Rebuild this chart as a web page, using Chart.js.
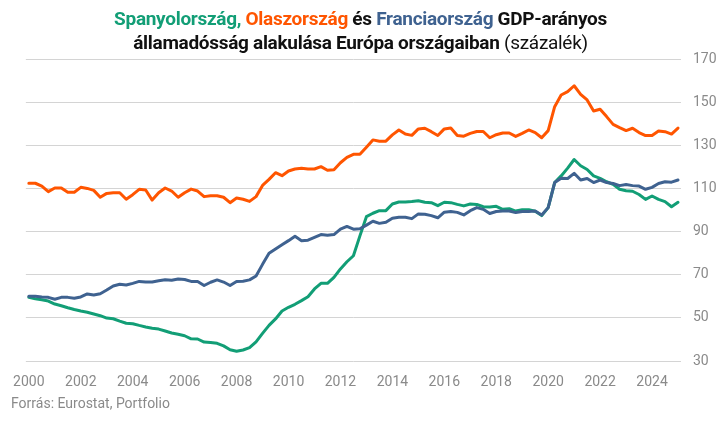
<!DOCTYPE html>
<html>
<head>
<meta charset="utf-8">
<script src="https://cdn.jsdelivr.net/npm/chart.js@4/dist/chart.umd.min.js"></script>
<style>
html, body {
    margin: 0;
    padding: 0;
    background: #fff;
}
#wrap {
    position: relative;
    width: 721px;
    height: 422px;
    overflow: hidden;
}
#title {
    position: absolute;
    left: 0;
    top: 7px;
    width: 721px;
    text-align: center;
    font-family: "Liberation Sans Narrow", Roboto, sans-serif;
    font-weight: bold;
    font-size: 19px;
    letter-spacing: -0.3px;
    line-height: 24px;
    color: #111;
}
#title .es { color: #129e76; }
#title .it { color: #ff5500; }
#title .fr { color: #3f6290; }
#title .thin { font-weight: normal; }
#source {
    position: absolute;
    left: 11px;
    top: 395px;
    font-family: Roboto, sans-serif;
    font-size: 14px;
    color: #8a8a8a;
}
canvas {
    position: absolute;
    left: 0;
    top: 0;
}
</style>
</head>
<body>
<div id="wrap">
    <canvas id="debtChart" width="721" height="422"></canvas>
    <div id="title">
        <span class="es">Spanyolország,</span> <span class="it">Olaszország</span> és <span class="fr">Franciaország</span> GDP-arányos<br>
        államadósság alakulása Európa országaiban <span class="thin">(százalék)</span>
    </div>
    <div id="source">Forrás: Eurostat, Portfolio</div>
</div>
<script>
// quarterly data, 2000 Q1 - 2025 Q1
var quarters = [];
for (var y = 2000; y <= 2025; y++) {
    for (var q = 1; q <= 4; q++) {
        if (y == 2025 && q > 1) break;
        quarters.push(y + " Q" + q);
    }
}

var yearTicks = [2000, 2002, 2004, 2006, 2008, 2010, 2012, 2014, 2016, 2018, 2020, 2022, 2024];
var valueTicks = [30, 50, 70, 90, 110, 130, 150, 170];

var italy = [
    112.4, 112.4, 111.1, 108.5, 110.2, 110.2, 108.2, 108.2, 110.5, 110.0,
    109.1, 105.9, 107.7, 108.0, 108.0, 105.0, 107.1, 109.6, 109.3, 104.6,
    108.0, 110.2, 108.8, 105.9, 108.0, 109.7, 108.8, 106.2, 106.6, 106.6,
    105.9, 103.4, 105.6, 105.0, 104.0, 106.2, 111.4, 114.2, 117.3, 115.9,
    118.1, 119.0, 119.3, 119.0, 119.0, 120.1, 118.4, 118.7, 121.9, 124.4,
    125.8, 125.8, 129.1, 132.5, 131.9, 131.9, 134.8, 137.1, 135.2, 134.6,
    137.6, 137.9, 136.3, 134.5, 137.6, 138.0, 134.5, 134.2, 135.5, 136.4,
    136.4, 133.5, 134.9, 135.7, 135.7, 134.1, 135.5, 137.1, 135.9, 133.5,
    136.8, 147.9, 153.3, 154.9, 157.6, 153.6, 151.0, 145.9, 146.7, 143.3,
    139.7, 138.2, 136.8, 137.9, 135.9, 134.5, 134.5, 136.6, 136.3, 135.2,
    138.0
];

var france = [
    60.0, 60.0, 59.7, 59.5, 58.6, 59.5, 59.5, 59.1, 59.7, 61.1,
    60.6, 61.2, 62.9, 64.8, 65.6, 65.2, 66.0, 66.9, 66.6, 66.6,
    67.2, 67.7, 67.4, 68.0, 67.8, 66.9, 66.9, 65.0, 66.5, 67.6,
    66.6, 65.0, 66.9, 67.0, 67.6, 69.4, 74.8, 79.9, 81.9, 83.9,
    85.8, 87.8, 85.8, 86.0, 87.3, 88.6, 88.3, 88.6, 91.1, 92.4,
    91.1, 91.3, 93.0, 94.8, 93.8, 94.3, 96.2, 96.6, 96.6, 96.0,
    98.2, 98.0, 97.4, 96.4, 99.0, 99.3, 98.9, 97.7, 99.7, 101.1,
    100.3, 98.4, 99.3, 99.5, 99.5, 98.8, 99.3, 99.3, 99.5, 97.7,
    101.1, 112.7, 114.7, 114.6, 117.0, 113.9, 114.6, 112.7, 113.9, 112.7,
    112.3, 111.3, 111.8, 111.3, 111.1, 109.6, 110.5, 112.3, 113.1, 112.9,
    113.9
];

var spain = [
    59.5, 58.9, 58.4, 57.8, 56.4, 55.6, 54.7, 53.9, 53.2, 52.6,
    51.8, 51.0, 49.9, 49.6, 48.5, 47.5, 47.3, 46.5, 45.8, 45.2,
    44.8, 43.9, 43.0, 42.4, 41.7, 40.3, 40.2, 38.8, 38.6, 38.2,
    37.0, 35.2, 34.5, 35.1, 36.2, 38.9, 42.8, 46.5, 49.5, 53.2,
    54.9, 56.3, 58.0, 59.8, 63.4, 66.0, 66.0, 68.8, 72.7, 76.0,
    78.8, 88.0, 96.9, 98.5, 99.7, 99.7, 102.8, 103.7, 103.7, 103.9,
    104.3, 103.6, 103.4, 102.0, 103.6, 103.4, 102.6, 101.9, 102.8, 102.6,
    101.5, 101.4, 101.7, 100.3, 100.6, 99.5, 100.1, 100.1, 99.4, 97.4,
    101.1, 112.7, 115.8, 119.4, 123.4, 120.5, 118.8, 115.8, 114.7, 113.1,
    111.9, 109.6, 108.9, 108.7, 107.2, 104.9, 106.5, 104.9, 103.9, 101.5,
    103.6
];

// position of each quarter on the time axis
function toPoints(values) {
    return values.map(function (v, i) {
        return {x: 2000 + i / 4, y: v};
    });
}

function lineSet(label, values, color) {
    return {
        label: label,
        data: toPoints(values),
        borderColor: color,
        backgroundColor: color,
        borderWidth: 3,
        pointRadius: 0,
        tension: 0,
        borderJoinStyle: "round",
        borderCapStyle: "round"
    };
}

var ctx = document.getElementById("debtChart").getContext("2d");
var debtChart = new Chart(ctx, {
    type: "line",
    data: {
        labels: quarters,
        datasets: [
            lineSet("Franciaország", france, "#3f6290"),
            lineSet("Spanyolország", spain, "#129e76"),
            lineSet("Olaszország", italy, "#ff5500")
        ]
    },
    options: {
        responsive: false,
        animation: false,
        events: [],
        layout: {
            padding: {top: 59, left: 22, right: 0, bottom: 33}
        },
        plugins: {
            legend: {display: false},
            tooltip: {enabled: false},
            title: {display: false}
        },
        scales: {
            x: {
                type: "linear",
                min: 1999.885,
                max: 2025.115,
                grid: {display: false, drawTicks: false},
                border: {display: false},
                afterBuildTicks: function (axis) {
                    axis.ticks = yearTicks.map(function (v) { return {value: v}; });
                },
                afterFit: function (axis) { axis.height = 28; },
                ticks: {
                    autoSkip: false,
                    maxRotation: 0,
                    padding: 13,
                    color: "#8a8a8a",
                    font: {family: "Roboto", size: 14},
                    callback: function (v) { return String(v); }
                }
            },
            y: {
                position: "right",
                min: 30,
                max: 170,
                afterBuildTicks: function (axis) {
                    axis.ticks = valueTicks.map(function (v) { return {value: v}; });
                },
                afterFit: function (axis) { axis.width = 40; },
                grid: {color: "#d4d4d4", lineWidth: 1, drawTicks: false},
                border: {display: false},
                ticks: {
                    padding: 12,
                    color: "#8a8a8a",
                    font: {family: "Roboto", size: 14}
                }
            }
        }
    }
});
</script>
</body>
</html>
